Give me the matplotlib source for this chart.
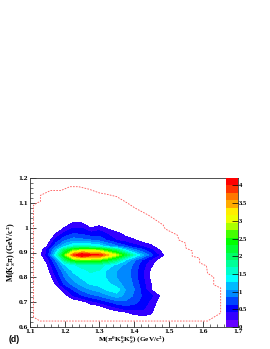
import numpy as np
import matplotlib
matplotlib.use('Agg')
import matplotlib.pyplot as plt
from matplotlib.colors import ListedColormap
from matplotlib.ticker import MultipleLocator

plt.rcParams['font.family'] = ['Liberation Serif', 'DejaVu Sans']
plt.rcParams['font.weight'] = 'bold'
plt.rcParams['mathtext.fontset'] = 'stix'

# celdas
mass_x = [1.100, 1.125, 1.150, 1.175, 1.200, 1.225, 1.250, 1.275, 1.300, 1.325, 1.350, 1.375, 1.400, 1.425, 1.450, 1.475, 1.500, 1.525]
mass_y = [0.625, 0.650, 0.675, 0.700, 0.725, 0.750, 0.775, 0.800, 0.825, 0.850, 0.870, 0.890, 0.910, 0.925, 0.950, 0.975, 1.000, 1.025, 1.050]
density = np.array([
    [0, 0, 0, 0, 0, 0, 0, 0, 0, 0, 0, 0, 0, 0, 0, 0, 0, 0],
    [0, 0, 0, 0, 0, 0, 0, 0, 0, 0, 0, 0, .2, .25, .2, 0, 0, 0],
    [0, 0, 0, 0, 0, 0, 0, 0, 0, .22, .35, .5, .5, .45, .3, 0, 0, 0],
    [0, 0, 0, 0, 0, 0, .1, .3, .45, .6, .75, .8, .7, .55, .35, .1, 0, 0],
    [0, 0, 0, 0, .1, .4, .6, .75, .85, 1.0, 1.15, 1.0, .8, .6, .45, .2, 0, 0],
    [0, 0, 0, .05, .35, .65, .9, 1.05, 1.15, 1.3, 1.4, 1.05, .85, .55, .2, 0, 0, 0],
    [0, 0, 0, .25, .7, .95, 1.15, 1.3, 1.35, 1.3, 1.1, 1.0, .8, .5, .2, 0, 0, 0],
    [0, 0, 0, .4, .85, 1.15, 1.3, 1.4, 1.4, 1.2, 1.05, 1.0, .75, .45, .15, 0, 0, 0],
    [0, 0, .1, .55, 1.0, 1.3, 1.4, 1.5, 1.45, 1.2, 1.05, .95, .75, .45, .15, 0, 0, 0],
    [0, 0, .2, .7, 1.25, 1.45, 1.55, 1.65, 1.6, 1.4, 1.2, 1.0, .8, .5, .25, 0, 0, 0],
    [0, 0, .3, .9, 1.9, 2.5, 2.7, 2.7, 2.6, 2.3, 1.9, 1.3, .9, .6, .35, .1, 0, 0],
    [0, .05, .5, 1.4, 2.6, 3.8, 4.35, 4.0, 4.0, 3.4, 2.9, 2.2, 1.55, 1.1, .7, .35, 0, 0],
    [0, .05, .45, 1.1, 2.0, 2.6, 2.8, 2.8, 2.7, 2.3, 1.9, 1.3, .9, .7, .45, .2, 0, 0],
    [0, 0, .22, .8, 1.25, 1.5, 1.6, 1.5, 1.4, 1.1, .9, .7, .5, .4, .27, 0, 0, 0],
    [0, 0, .05, .5, .8, .95, .9, .85, .75, .6, .4, .3, .25, .1, 0, 0, 0, 0],
    [0, 0, 0, .22, .5, .65, .6, .5, .55, .4, .3, .15, 0, 0, 0, 0, 0, 0],
    [0, 0, 0, 0, .22, .4, .4, .2, .3, .15, 0, 0, 0, 0, 0, 0, 0, 0],
    [0, 0, 0, 0, 0, .18, .15, 0, 0, 0, 0, 0, 0, 0, 0, 0, 0, 0],
    [0, 0, 0, 0, 0, 0, 0, 0, 0, 0, 0, 0, 0, 0, 0, 0, 0, 0],
])

# borde de la region permitida
edge_x = [1.11, 1.11, 1.12, 1.13, 1.13, 1.16, 1.19, 1.215, 1.24, 1.27, 1.30, 1.32, 1.35, 1.38, 1.403, 1.441, 1.484, 1.49, 1.525, 1.53, 1.548, 1.55, 1.568, 1.568, 1.588, 1.59, 1.609, 1.612, 1.63, 1.63, 1.65, 1.65, 1.612, 1.129, 1.11]
edge_y = [0.64, 1.09, 1.10, 1.105, 1.13, 1.15, 1.15, 1.165, 1.165, 1.155, 1.14, 1.135, 1.125, 1.10, 1.079, 1.051, 1.011, 0.995, 0.97, 0.95, 0.938, 0.918, 0.906, 0.885, 0.878, 0.858, 0.846, 0.817, 0.80, 0.77, 0.757, 0.656, 0.624, 0.624, 0.64]

palette = ['#6600ff', '#3300ff', '#0000ff', '#0044ff', '#0088ff', '#00bbff', '#00ffff', '#00ffcc', '#00ff99', '#00ff66',
           '#00ff33', '#00ff00', '#44ff00', '#aaff00', '#eeff00', '#ffee00', '#ffaa00', '#ff7700', '#ff3300', '#ff0000']
z_top = 4.21
levels = np.linspace(0, z_top, len(palette) + 1)
cmap = ListedColormap(palette)

W, H = 270, 349
fig = plt.figure(figsize=(W / 100, H / 100), dpi=100)
ax = fig.add_axes([30 / W, 1 - 327 / H, 208 / W, 149 / H])

ax.contourf(mass_x, mass_y, density, levels=levels[1:], cmap=ListedColormap(palette[1:]), extend='max')
ax.plot(edge_x, edge_y, color='#ff5555', lw=0.6, ls=(0, (2, 1.5)))
ax.set_xlim(1.1, 1.7)
ax.set_ylim(0.6, 1.2)
ax.xaxis.set_minor_locator(MultipleLocator(0.02))
ax.yaxis.set_minor_locator(MultipleLocator(0.02))
ax.set_xticks([1.1, 1.2, 1.3, 1.4, 1.5, 1.6, 1.7])
ax.set_xticklabels(['1.1', '1.2', '1.3', '1.4', '1.5', '1.6', '1.7'])
ax.set_yticks([0.6, 0.7, 0.8, 0.9, 1.0, 1.1, 1.2])
ax.set_yticklabels(['0.6', '0.7', '0.8', '0.9', '1', '1.1', '1.2'])
ax.tick_params(which='major', direction='in', length=4, width=0.5, labelsize=5.4, pad=1.5)
ax.tick_params(which='minor', direction='in', length=2, width=0.4)
for side in ax.spines.values():
    side.set_linewidth(0.6)
    side.set_color('#333333')

# barra de colores a la derecha, dentro del marco
cax = fig.add_axes([226 / W, 1 - 327 / H, 12 / W, 149 / H])
cax.pcolormesh([0, 1], levels, np.arange(len(palette)).reshape(-1, 1), cmap=cmap)
cax.set_ylim(0, z_top)
cax.set_xticks([])
cax.yaxis.tick_right()
cax.set_yticks([0, 0.5, 1, 1.5, 2, 2.5, 3, 3.5, 4])
cax.set_yticklabels(['0', '0.5', '1', '1.5', '2', '2.5', '3', '3.5', '4'])
cax.tick_params(axis='y', direction='in', length=4.5, width=0.5, labelsize=4.8, pad=0.5)
for side in cax.spines.values():
    side.set_visible(False)

fig.text(166 / W, 1 - 340 / H, r'M($\mathbf{\pi}^{0}$K$_{S}^{0}$K$_{S}^{0}$) (GeV/c$^{2}$)', ha='right', va='center', fontsize=5.2)
fig.text(11 / W, 1 - 252 / H, r'M(K$_{S}^{0}\mathbf{\pi}$) (GeV/c$^{2}$)', rotation=90, ha='center', va='center', fontsize=5.6)
fig.text(9 / W, 1 - 339 / H, '(d)', ha='left', va='center', fontsize=6.2, family='Liberation Sans')

fig.savefig('out.png', dpi=100)
